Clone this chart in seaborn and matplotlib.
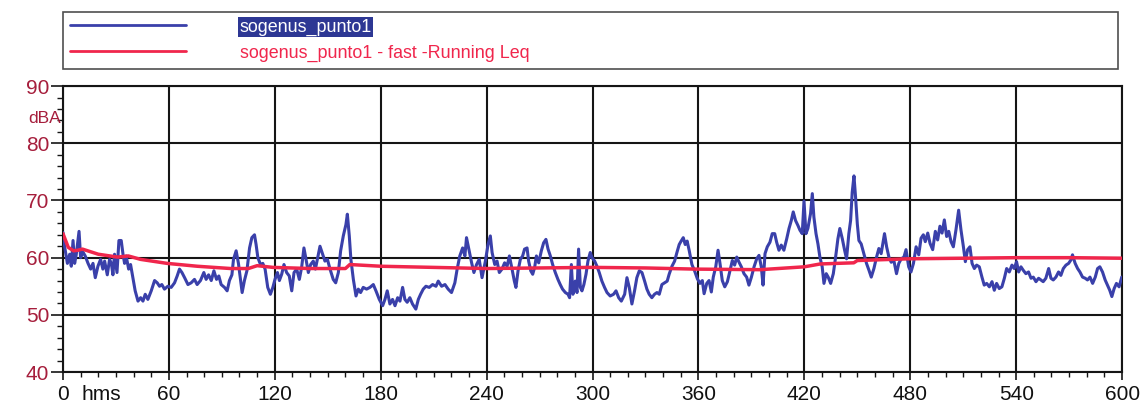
import matplotlib
matplotlib.use("Agg")
import matplotlib.pyplot as plt
import matplotlib.transforms as mtransforms
from matplotlib.ticker import MultipleLocator
import seaborn as sns

# Sound level record, seconds from start of measurement
t_level = [
    0, 0.9, 2.5, 3.8, 4.7, 5.7, 6.6, 7.5, 9.1, 10, 11.3, 12.6, 14.2, 15.7, 17, 18.3, 19.8, 21.3,
    22.6, 23.6, 25.1, 26.4, 27.4, 28.3, 29.2, 30.6, 31.7, 33, 34, 34.9, 35.8, 37.2, 38.3, 39.6,
    40.9, 42.5, 44, 45.3, 46.6, 48.1, 50, 51.9, 53.4, 54.7, 56, 57.5, 59.4, 61.3, 63.2, 64.7,
    66, 67.4, 68.9, 70.8, 72.6, 74.5, 76, 77.9, 79.8, 81.1, 82.5, 84, 85.5, 87, 88.3, 89.6,
    91.5, 93, 94.3, 95.7, 96.6, 98.1, 99.4, 100.6, 101.5, 102.8, 104.2, 105.7, 107, 108.5,
    109.4, 110.4, 111.9, 113.2, 114.5, 116, 117.5, 118.9,
    120.1, 121.5, 122.6, 123.9, 125.2, 126.7, 128.2, 129.6, 130.9, 132.4, 133.9, 135.2, 136.5,
    137.7, 139, 140.3, 141.8, 143, 144.1, 145.6, 147.1, 148.4, 149.8, 151.3, 153.1, 154.5, 156,
    157.3, 158.8, 160.3, 161.1, 162.2, 163.1, 164.5, 166, 167.3, 168.6, 170.1, 172, 173.9,
    175.8, 177.3, 179.2, 181.1, 182.4, 183.7, 185.2, 186.7, 188.1, 189.6, 190.9, 192.4, 193.7,
    195, 196.5, 198, 199.9, 201.3, 202.6, 204.1, 205.6, 207.5, 209.4, 211.3, 212.6, 214.5,
    216.4, 218.2, 220.1, 222, 223.3, 224.8, 226.4, 227.7, 228.6, 230.1, 231.5, 232.8, 234.3,
    235.8,
    237.4, 239.3, 240.8, 242.1, 243.1, 244.6, 245.9, 247.2, 248.7, 250.2, 251.6, 252.9, 254.4,
    255.7, 256.6, 257.8, 259.1, 260.4, 261.5, 262.9, 263.8, 265, 266.1, 267.2, 268.2, 269.5,
    271, 272.3, 273.6, 274.8, 276.1, 277.4, 278.9, 280.4, 281.7, 283, 284.6, 286.1, 287, 288,
    288.9, 290.2, 291.2, 292.1, 293.1, 294, 295.1, 296.3, 297.4, 298.7, 299.7, 301.2, 302.5,
    303.8, 305.3, 306.8, 308.2, 310, 311.9, 313.3, 314.8, 316.3, 318.2, 319.5, 320.8, 322.3,
    323.8, 325.1, 326.5, 328, 329.5, 330.8, 332.1, 333.6, 335.1, 336.5, 337.8, 339.3, 340.8,
    342.3, 343.4, 345, 346.5, 347.8, 349.1, 350.2, 351.4, 352.5, 353.6, 354.8, 356.3, 357.8,
    359.4, 360.9, 362.2, 363.2, 364.7, 366, 367.3, 368.4, 369.8, 371.1, 372.2, 373.5, 374.9,
    376.4, 377.9, 379.2, 380.5, 381.7, 383, 384.3, 385.8, 387.3, 388.6, 390, 391.5, 393, 394.3,
    395.6, 396.6, 397.7, 399, 400.5, 401.8, 403.2, 404.3, 405.6, 406.9, 408.4, 410, 411.3,
    412.6, 413.7, 415, 416.4, 417.5, 418.8, 419.8, 420.9, 422, 423.5, 424.5, 425.4, 426.6,
    427.7, 428.8, 430.1, 431.1, 432.4, 433.5, 434.9, 436.4, 437.7, 439, 440.1, 441.5, 442.8,
    443.9, 445.2, 446.2, 447.1, 448.1, 449, 450, 450.9, 452.2, 453.7, 455.2, 456.6, 457.9,
    459.4, 460.9, 462.2, 463.5, 465.4, 466.6, 467.9, 469.2, 470.7, 472.2, 473.5, 474.9, 476.4,
    477.6, 479.1, 480.4, 481.8, 483.3, 484.8, 486.1, 487.4, 488.5, 489.9, 491.2, 492.7, 494.2,
    495.5, 496.8, 498, 499.3, 500.6, 501.8, 503.1, 504.4, 505.9, 507.4, 508.7, 510.1, 511.2,
    512.5, 513.8, 515, 516.3, 517.6, 519.1, 520.6, 521.9, 523.3, 524.8, 526.3, 527.6, 528.9,
    530.4, 531.9, 533.3, 534.6, 536.1, 537.6, 538.9, 540.2, 541.4, 542.7, 544, 545.5, 547,
    548.4, 549.7, 551.2, 552.7, 554, 555.3, 556.8, 558.4, 559.7, 561, 562.5, 564, 565.3, 566.7,
    568.2, 569.7, 571, 571.9, 573.4, 574.8, 576.1, 577.6, 579.1, 580.4, 581.8, 583.3, 584.8,
    586.1, 587.4, 588.9, 590.4, 591.7, 593, 594.2, 595.5, 596.8, 598.3, 599.8,
]
db_level = [
    64.4, 62, 59, 60.6, 58.5, 63, 59, 60.5, 64.6, 60, 61, 60.3, 59, 58, 59, 56.5, 58.5, 59.7,
    58, 59.4, 57, 59.7, 59, 57, 60.6, 57.4, 63, 63, 60.6, 59, 60.3, 58, 58.8, 56.5,
    54.2, 52.4, 53, 52.4, 53.6, 52.7, 54.2, 56, 55.6, 55, 55.3, 54.5, 55, 54.8, 55.6, 56.8,
    58, 57.4, 56.5, 55.3, 55.6, 56.2, 55.3, 56, 57.4, 56.2, 57, 56, 57.7, 56.2, 56.8, 55.3,
    54.8, 54.2, 56, 57, 59.7, 61.2, 59, 56, 53.9, 56, 57.7, 61.7, 63.5, 64,
    62.3, 60, 58.8, 59, 58, 54.8, 53.6, 54.8,
    56.2, 57.4, 56, 57.1, 58.8, 57.4, 56.8, 54.2, 57.4, 58, 56.2, 58.3, 61.7,
    59.7, 57.4, 58.8, 59.4, 58, 59.7, 62, 60.6, 59.4, 59.7, 58, 56.2, 55.6, 57.4,
    61.2, 63.8, 65.8, 67.6, 63.8, 59.7, 56.2, 53.3, 54.5, 53.9, 54.8, 54.5, 54.8,
    55.3, 54.2, 52.7, 51.6, 52.7, 54.2, 51.9, 52.7, 51.6, 53, 52.4, 54.8, 52.7,
    52.2, 53, 51.9, 51, 52.7, 53.6, 54.5, 55, 54.8, 55.3, 55, 55.9, 55,
    55.3, 54.5, 53.9, 55.6, 58, 60.3, 61.7, 60.3, 63.5, 61.2, 59.1, 57.4, 58.8,
    59.7,
    56.5, 59.4, 62.3, 63.8, 60.9, 58.8, 59.4, 57.4, 58, 59.1, 58.5, 60.3, 58,
    55.9, 54.8, 57.7, 59.7, 60.3, 61.5, 61.7, 59.4, 57.7, 57.1, 58.3, 60.3, 59.1,
    61.2, 62.6, 63.2, 61.5, 60.3, 58.8, 57.4, 56.2, 55.3, 54.5, 53.9, 53.6, 53, 58.8,
    53.6, 55.9, 53.9, 61.5, 54.8, 54.2, 55.3, 57.1, 59.4, 60.9, 60, 59.4, 58.5,
    57.4, 55.9, 54.8, 53.9, 53.3, 53.6, 54.2, 53, 52.4, 53.6, 56.5, 54.8, 51.9,
    54.2, 56.5, 57.7, 57.4, 55.9, 54.5, 53.6, 53, 53.6, 53.9, 53.6, 55.3, 55.6,
    55.9, 57.1, 58.5, 59.4, 60.9, 62.3, 62.9, 63.5, 62.3, 62.9, 61.2, 58.8, 57.7,
    56.3, 55.5, 56, 53.7, 55.5, 56, 54, 56.6, 58.4, 61.3, 59, 56, 54.9,
    55.8, 57.8, 59.5, 58.7, 60.1, 59.2, 58.4, 57.2, 56.6, 55.2, 56.6, 58.4, 59.8, 60.4,
    58.4, 55.2, 60.7, 61.9, 62.7, 64.2, 64.2, 62.7, 61.3, 62.2, 61.3, 63.3, 65.1,
    66.5, 68, 66.5, 65.6, 64.8, 64.2, 69.9, 64.2, 65.1, 67.7, 71.2, 67.1, 64.2,
    62.4, 60.1, 58.4, 55.5, 57.2, 56.6, 55.5, 57.2, 60.1, 63.3, 65.1, 63.3, 61.3,
    59.8, 64.2, 66.5, 71.4, 74.3, 70.6, 65.9, 63, 62.4, 60.7, 59, 57.8, 56.6,
    58.1, 60.1, 61.6, 60.7, 64.2, 61.9, 60.1, 59.2, 59.5, 57.2, 59, 59.8, 60.1,
    61.4, 58.4, 57.5, 59, 61.9, 60.5, 63.4, 64, 62.8, 64.3, 62.5, 61.4, 64.6,
    63.1, 65.5, 64.3, 66.6, 63.7, 64.6, 62.8, 61.9, 64.9, 68.3, 64.9, 61.9, 59.3,
    61.4, 61.9, 59, 58.1, 58.7, 58.4, 56.6, 55.2, 55.5, 54.9, 55.8, 54.3, 55.5,
    54.6, 54.9, 56.4, 58.1, 57.5, 58.7, 58.1, 59.3, 57.5, 58.4, 57.8, 57.2, 57.5,
    56.4, 56.6, 55.8, 56.4, 56.1, 55.8, 56.4, 58.1, 56.4, 56.1, 56.6, 57.5, 56.9, 58.1,
    58.7, 59, 59.6, 60.5, 59, 58.1, 57.5, 56.6, 56.4, 56.1, 56.6, 55.5, 56.6,
    58.1, 58.4, 57.5, 56.1, 55.2, 54.3, 53.2, 54.6, 55.5, 54.9, 56.6,
]

# Running Leq (fast)
t_leq = [0, 3, 6, 8.5, 11, 20, 31, 37, 44, 59, 76, 95, 105, 110, 119, 140, 160, 162.5,
         180, 210, 240, 270, 300, 330, 358, 395, 420, 429, 448, 450, 479, 510, 540, 570, 600]
db_leq = [64.2, 61.8, 61.2, 61.3, 61.5, 60.6, 60.1, 60.3, 59.7, 59.0, 58.5, 58.1, 58.1,
          58.6, 58.3, 58.1, 58.1, 58.8, 58.5, 58.3, 58.1, 58.2, 58.3, 58.2, 58.0, 57.9,
          58.4, 58.9, 59.1, 59.5, 59.8, 59.9, 60.0, 60.0, 59.9]

series_names = ["sogenus_punto1", "sogenus_punto1 - fast -Running Leq"]
x_ticks = [0, 60, 120, 180, 240, 300, 360, 420, 480, 540, 600]
y_ticks = [40, 50, 60, 70, 80, 90]

BLUE = "#3a40aa"
RED = "#f0264c"
MAROON = "#a61e3c"
INK = "#151515"

sns.set_style("white")
plt.rcParams["font.family"] = ["Liberation Sans", "DejaVu Sans"]

fig = plt.figure(figsize=(11.45, 4.12), dpi=100)
ax = fig.add_axes([0.055, 0.097, 0.925, 0.694])

sns.lineplot(x=t_level, y=db_level, ax=ax, color=BLUE, lw=2.2, estimator=None,
             sort=False, label=series_names[0], zorder=3)
sns.lineplot(x=t_leq, y=db_leq, ax=ax, color=RED, lw=2.5, estimator=None,
             sort=False, label=series_names[1], zorder=4)

ax.set_xlim(0, 600)
ax.set_ylim(40, 90)
ax.set_xticks(x_ticks)
ax.set_yticks(y_ticks)
ax.xaxis.set_minor_locator(MultipleLocator(10))
ax.yaxis.set_minor_locator(MultipleLocator(2))
ax.set_xlabel("")
ax.set_ylabel("")

ax.grid(True, which="major", color=INK, lw=1.5)
ax.grid(False, which="minor")
for s in ax.spines.values():
    s.set_visible(True)
    s.set_color(INK)
    s.set_linewidth(1.5)

ax.tick_params(axis="x", which="major", bottom=True, direction="out", length=6,
               width=1.2, color=INK, labelsize=15, labelcolor="#111111", pad=3)
ax.tick_params(axis="x", which="minor", bottom=True, direction="out", length=3.5,
               width=1.0, color=INK)
ax.tick_params(axis="y", which="major", left=True, direction="out", length=9,
               width=1.2, color=INK, labelsize=15, labelcolor=MAROON, pad=1)
ax.tick_params(axis="y", which="minor", left=True, direction="out", length=4.5,
               width=1.0, color=INK)

# unit labels
ax.text(-0.002, 84.4, "dBA", color=MAROON, fontsize=12.5,
        transform=mtransforms.blended_transform_factory(ax.transAxes, ax.transData),
        ha="right", va="center")
ax.text(22, -0.045, "hms", color="#111111", fontsize=15,
        transform=mtransforms.blended_transform_factory(ax.transData, ax.transAxes),
        ha="center", va="top")

handles, labels = ax.get_legend_handles_labels()
ax.get_legend().remove()
leg = fig.legend(handles, labels, loc="upper left",
                 bbox_to_anchor=(0.055, 0.971, 0.921, 0.0), mode="expand",
                 borderaxespad=0, fontsize=12.9, handlelength=6.5, handletextpad=3.0,
                 labelspacing=0.5, borderpad=0.37, frameon=True, fancybox=False)
frame = leg.get_frame()
frame.set_edgecolor("#222222")
frame.set_linewidth(1.2)
for line in leg.get_lines():
    line.set_linewidth(2.0)
txt0, txt1 = leg.get_texts()
txt0.set_color("white")
txt0.set_bbox(dict(facecolor="#2d3794", edgecolor="none", pad=1.0))
txt1.set_color(RED)

fig.savefig("out.png", dpi=100)
